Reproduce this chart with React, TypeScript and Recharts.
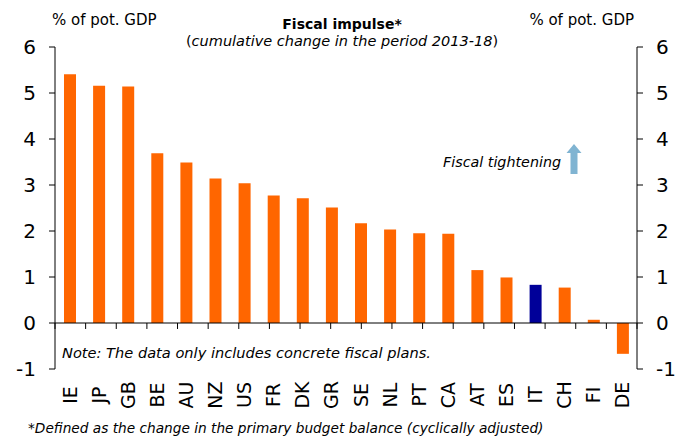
import React from 'react';
import { ComposedChart, Bar, Line, Cell, XAxis, YAxis, ReferenceLine } from 'recharts';

const countries = ['IE', 'JP', 'GB', 'BE', 'AU', 'NZ', 'US', 'FR', 'DK', 'GR', 'SE', 'NL', 'PT', 'CA', 'AT', 'ES', 'IT', 'CH', 'FI', 'DE'];
const impulse = [5.41, 5.16, 5.14, 3.69, 3.49, 3.14, 3.04, 2.77, 2.71, 2.51, 2.17, 2.03, 1.95, 1.94, 1.15, 0.99, 0.83, 0.77, 0.07, -0.67];
const highlight = 'IT';
const yTicks = [-1, 0, 1, 2, 3, 4, 5, 6];

const ORANGE = '#ff6600';
const NAVY = '#000099';
const FONT = '"DejaVu Sans", Verdana, sans-serif';

const W = 677;
const H = 437;

const data = countries.map((c, i) => ({ country: c, value: impulse[i] }));
// boundaries between categories, for the little ticks hanging off the zero line
const boundaries = Array.from({ length: countries.length + 1 }, (_, i) => i);

const CountryTick = ({ x, y, payload }: any) => {
  const cy = y + 26;
  return (
    <text
      x={x}
      y={cy}
      transform={`rotate(-90 ${x} ${cy})`}
      textAnchor="middle"
      dominantBaseline="central"
      fontSize={19}
      fontFamily={FONT}
      fill="#000"
    >
      {payload.value}
    </text>
  );
};

const yTickStyle = { fontSize: 20, fill: '#000', fontFamily: FONT };

export default function App() {
  return (
    <div style={{ position: 'absolute', left: 0, top: 0, width: W, height: H, background: '#fff', fontFamily: FONT }}>
      <ComposedChart
        width={W}
        height={H}
        data={data}
        margin={{ top: 47, right: 0, left: 0, bottom: 0 }}
        barCategoryGap={0}
      >
        <XAxis
          dataKey="country"
          axisLine={false}
          tickLine={false}
          tickSize={0}
          tickMargin={0}
          height={68}
          interval={0}
          tick={<CountryTick />}
        />
        <XAxis xAxisId="grid" type="number" domain={[0, countries.length]} hide />
        <YAxis
          yAxisId="left"
          domain={[-1, 6]}
          allowDataOverflow
          ticks={yTicks}
          width={55}
          tickSize={6}
          tickMargin={13}
          axisLine={{ stroke: '#000' }}
          tickLine={{ stroke: '#000' }}
          tick={yTickStyle}
        />
        <YAxis
          yAxisId="right"
          orientation="right"
          domain={[-1, 6]}
          allowDataOverflow
          ticks={yTicks}
          width={40}
          tickSize={6}
          tickMargin={13}
          axisLine={{ stroke: '#000' }}
          tickLine={{ stroke: '#000' }}
          tick={yTickStyle}
        />
        <Bar dataKey="value" yAxisId="left" barSize={12} isAnimationActive={false}>
          {data.map((d) => (
            <Cell key={d.country} fill={d.country === highlight ? NAVY : ORANGE} />
          ))}
        </Bar>
        {/* invisible series so the right axis gets its scale */}
        <Line
          dataKey="value"
          yAxisId="right"
          stroke="none"
          dot={false}
          activeDot={false}
          legendType="none"
          isAnimationActive={false}
        />
        <ReferenceLine yAxisId="left" y={0} stroke="#000" strokeWidth={1} />
        {boundaries.map((b) => (
          <ReferenceLine
            key={b}
            xAxisId="grid"
            yAxisId="left"
            segment={[{ x: b, y: 0 }, { x: b, y: -0.13 }]}
            stroke="#000"
            strokeWidth={1}
          />
        ))}
      </ComposedChart>

      <svg width={W} height={H} style={{ position: 'absolute', left: 0, top: 0, pointerEvents: 'none' }}>
        <g fontFamily={FONT} fill="#000">
          <text x={52} y={25} fontSize={15}>% of pot. GDP</text>
          <text x={634} y={25} fontSize={15} textAnchor="end">% of pot. GDP</text>
          <text x={342} y={29} fontSize={14} fontWeight="bold" textAnchor="middle">Fiscal impulse*</text>
          <text x={342} y={46} fontSize={14.5} textAnchor="middle">
            (<tspan fontStyle="italic">cumulative change in the period 2013-18</tspan>)
          </text>
          <text x={443} y={167} fontSize={14.3} fontStyle="italic">Fiscal tightening</text>
          <text x={62} y={358} fontSize={14.6} fontStyle="italic">Note: The data only includes concrete fiscal plans.</text>
          <text x={28} y={433} fontSize={13.7} fontStyle="italic">*Defined as the change in the primary budget balance (cyclically adjusted)</text>
        </g>
        <polygon
          points="570.5,174 577.5,174 577.5,153 581.5,153 574,144 566.5,153 570.5,153"
          fill="#80b4d2"
        />
      </svg>
    </div>
  );
}
